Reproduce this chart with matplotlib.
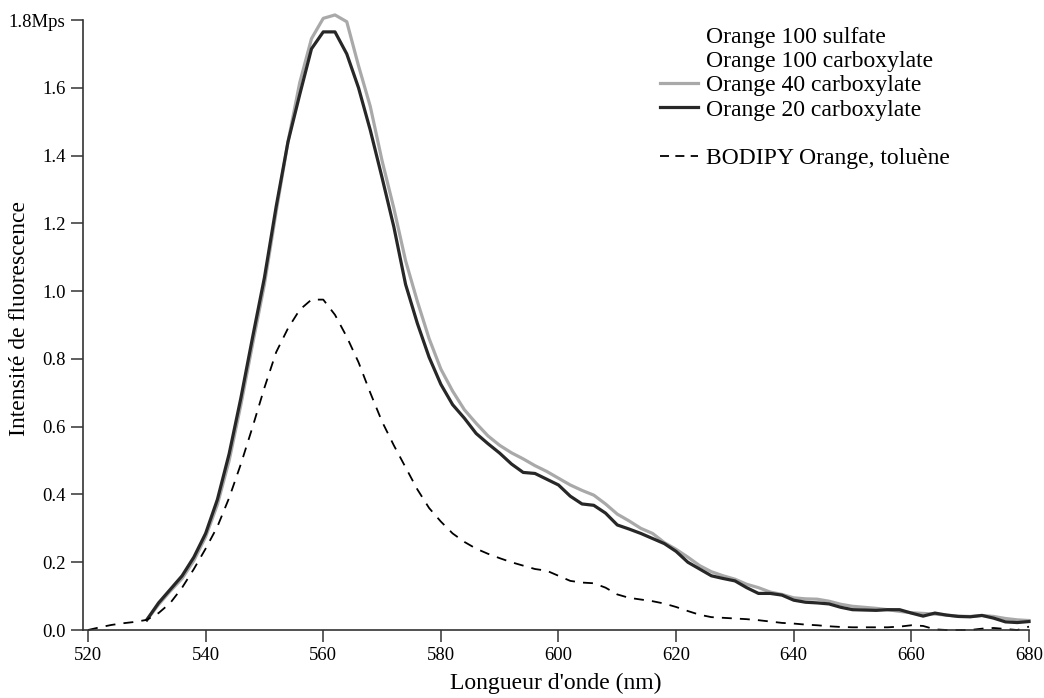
import numpy as np
import matplotlib
matplotlib.use('Agg')
import matplotlib.pyplot as plt
from matplotlib.lines import Line2D

plt.rcParams['font.family'] = ['Liberation Serif', 'DejaVu Serif']

# Emission spectra (intensity in Mcps)
wl = np.arange(530, 681, 2)
orange40 = [0.03, 0.075, 0.115, 0.152, 0.205, 0.275, 0.37, 0.50, 0.665, 0.845,
            1.02, 1.235, 1.44, 1.615, 1.745, 1.805, 1.815, 1.795, 1.665, 1.545,
            1.385, 1.245, 1.09, 0.97, 0.86, 0.77, 0.705, 0.65, 0.61, 0.573,
            0.545, 0.523, 0.505, 0.485, 0.468, 0.448, 0.428, 0.412, 0.398, 0.372,
            0.342, 0.322, 0.30, 0.285, 0.258, 0.238, 0.215, 0.19, 0.172, 0.16,
            0.15, 0.135, 0.125, 0.112, 0.105, 0.095, 0.092, 0.091, 0.085, 0.076,
            0.07, 0.067, 0.064, 0.06, 0.055, 0.051, 0.049, 0.047, 0.044, 0.041,
            0.04, 0.043, 0.04, 0.034, 0.03, 0.028]
orange20 = [0.03, 0.08, 0.12, 0.16, 0.215, 0.285, 0.385, 0.52, 0.685, 0.865,
            1.04, 1.25, 1.44, 1.58, 1.715, 1.765, 1.765, 1.70, 1.60, 1.475,
            1.335, 1.19, 1.02, 0.905, 0.805, 0.725, 0.665, 0.625, 0.58, 0.55,
            0.522, 0.49, 0.465, 0.462, 0.445, 0.428, 0.395, 0.372, 0.368, 0.345,
            0.31, 0.298, 0.285, 0.27, 0.255, 0.232, 0.20, 0.18, 0.16, 0.152,
            0.145, 0.125, 0.108, 0.108, 0.103, 0.088, 0.082, 0.08, 0.077, 0.067,
            0.06, 0.059, 0.058, 0.06, 0.06, 0.05, 0.041, 0.05, 0.044, 0.04,
            0.039, 0.043, 0.035, 0.024, 0.022, 0.025]

wl_bodipy = np.arange(520, 681, 2)
bodipy = [0.0, 0.008, 0.015, 0.02, 0.024, 0.03, 0.05, 0.08, 0.125, 0.18,
          0.24, 0.305, 0.39, 0.49, 0.6, 0.715, 0.82, 0.89, 0.945, 0.975,
          0.975, 0.93, 0.865, 0.79, 0.70, 0.615, 0.545, 0.48, 0.415, 0.36,
          0.32, 0.285, 0.26, 0.24, 0.225, 0.212, 0.2, 0.19, 0.18, 0.175,
          0.16, 0.145, 0.14, 0.138, 0.125, 0.105, 0.095, 0.09, 0.085, 0.078,
          0.068, 0.056, 0.045, 0.038, 0.036, 0.034, 0.032, 0.029, 0.025, 0.021,
          0.019, 0.016, 0.014, 0.011, 0.009, 0.008, 0.008, 0.008, 0.008, 0.01,
          0.014, 0.012, 0.002, 0.0, 0.0, 0.0, 0.004, 0.006, 0.003, 0.0, 0.01]

xticks = [520, 540, 560, 580, 600, 620, 640, 660, 680]
yticks = [0.0, 0.2, 0.4, 0.6, 0.8, 1.0, 1.2, 1.4, 1.6, 1.8]
ytick_labels = ['0.0', '0.2', '0.4', '0.6', '0.8', '1.0', '1.2', '1.4', '1.6', '1.8Mps']

fig = plt.figure(figsize=(10.44, 6.98), dpi=100)
ax = fig.add_axes([0.0795, 0.0974, 0.9061, 0.8739])

ax.plot(wl, orange40, color='#a9a9a9', lw=2.3, clip_on=False, solid_joinstyle='round')
ax.plot(wl, orange20, color='#272727', lw=2.3, clip_on=False, solid_joinstyle='round')
ax.plot(wl_bodipy, bodipy, color='black', lw=1.3, dashes=(5.5, 4.5), clip_on=False)

ax.set_xlim(519.15, 680)
ax.set_ylim(0, 1.8)
for s in ['top', 'right']:
    ax.spines[s].set_visible(False)
for s in ['left', 'bottom']:
    ax.spines[s].set_color('#333333')
    ax.spines[s].set_linewidth(1.2)

ax.set_xticks(xticks)
ax.set_yticks(yticks, ytick_labels)
ax.tick_params(axis='both', direction='out', length=8.5, width=1.1, color='#333333',
               labelsize=13.5)
ax.tick_params(axis='x', pad=4)
ax.tick_params(axis='y', pad=4)

ax.set_xlabel("Longueur d'onde (nm)", fontsize=17)
ax.set_ylabel('Intensité de fluorescence', fontsize=17)
ax.xaxis.label.set_va('center')
ax.yaxis.label.set_va('center')
ax.xaxis.set_label_coords(0.5, -0.087)
ax.yaxis.set_label_coords(-0.067, 0.511)

handles = [
    Line2D([], [], linestyle='none'),
    Line2D([], [], linestyle='none'),
    Line2D([], [], color='#a9a9a9', lw=2.3),
    Line2D([], [], color='#272727', lw=2.3),
    Line2D([], [], linestyle='none'),
    Line2D([], [], color='black', lw=1.3, dashes=(5, 3.5)),
]
labels = ['Orange 100 sulfate', 'Orange 100 carboxylate', 'Orange 40 carboxylate',
          'Orange 20 carboxylate', ' ', 'BODIPY Orange, toluène']
fig.legend(handles, labels, loc='upper left', bbox_to_anchor=(660 / 1044, 1 - 26 / 698),
           frameon=False, fontsize=17, handlelength=1.6, handletextpad=0.34,
           labelspacing=0.12, borderpad=0, borderaxespad=0)

fig.savefig('out.png', dpi=100)
